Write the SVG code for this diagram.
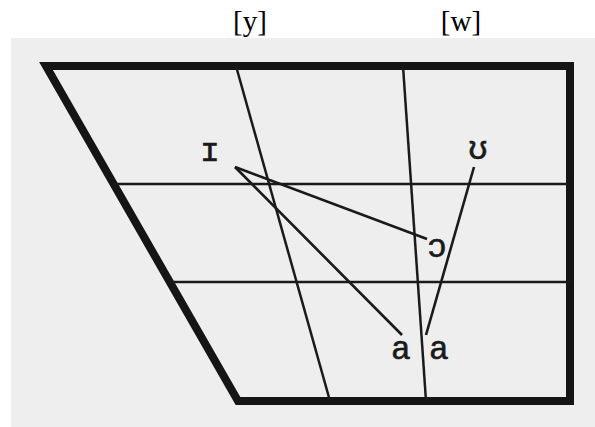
<svg xmlns="http://www.w3.org/2000/svg" width="595" height="427" viewBox="0 0 595 427">
  <style>
    .frame { fill: none; stroke: #151515; stroke-width: 8; stroke-linejoin: miter; }
    .grid { stroke: #1a1a1a; stroke-width: 2.5; fill: none; }
    .conn { stroke: #1a1a1a; stroke-width: 2.6; fill: none; stroke-linecap: butt; }
    .vowel { font-family: "Liberation Mono", "DejaVu Sans Mono", monospace; font-size: 33px; fill: #1a1a1a; text-anchor: middle; stroke: #1a1a1a; stroke-width: 0.6; }
    .top { font-family: "Liberation Serif", "Times New Roman", serif; font-size: 29px; fill: #000; text-anchor: middle; }
  </style>
  <rect x="0" y="0" width="595" height="427" fill="#ffffff"/>
  <rect x="11" y="38" width="584" height="389" fill="#eeeeee"/>

  <g id="labels-top">
    <text class="top" x="250" y="31">[y]</text>
    <text class="top" x="461" y="31">[w]</text>
  </g>

  <g id="chart">
    <polygon class="frame" points="46,66 570,66 570,401 238,401"/>
    <line class="grid" x1="113" y1="184" x2="570" y2="184"/>
    <line class="grid" x1="170" y1="282" x2="570" y2="282"/>
    <line class="grid" x1="236" y1="66" x2="330" y2="401"/>
    <line class="grid" x1="403" y1="66" x2="426" y2="401"/>
  </g>

  <g id="connectors">
    <line class="conn" x1="235" y1="167" x2="427" y2="239"/>
    <line class="conn" x1="235" y1="167" x2="402" y2="335"/>
    <line class="conn" x1="474" y1="167" x2="426" y2="335"/>
  </g>

  <g id="node-i"><text class="vowel" x="210" y="161">ɪ</text></g>
  <g id="node-u"><text class="vowel" x="478" y="159">ʊ</text></g>
  <g id="node-o"><text class="vowel" x="437" y="257">ɔ</text></g>
  <g id="node-a1"><text class="vowel" x="401" y="359">a</text></g>
  <g id="node-a2"><text class="vowel" x="439" y="359">a</text></g>
</svg>
